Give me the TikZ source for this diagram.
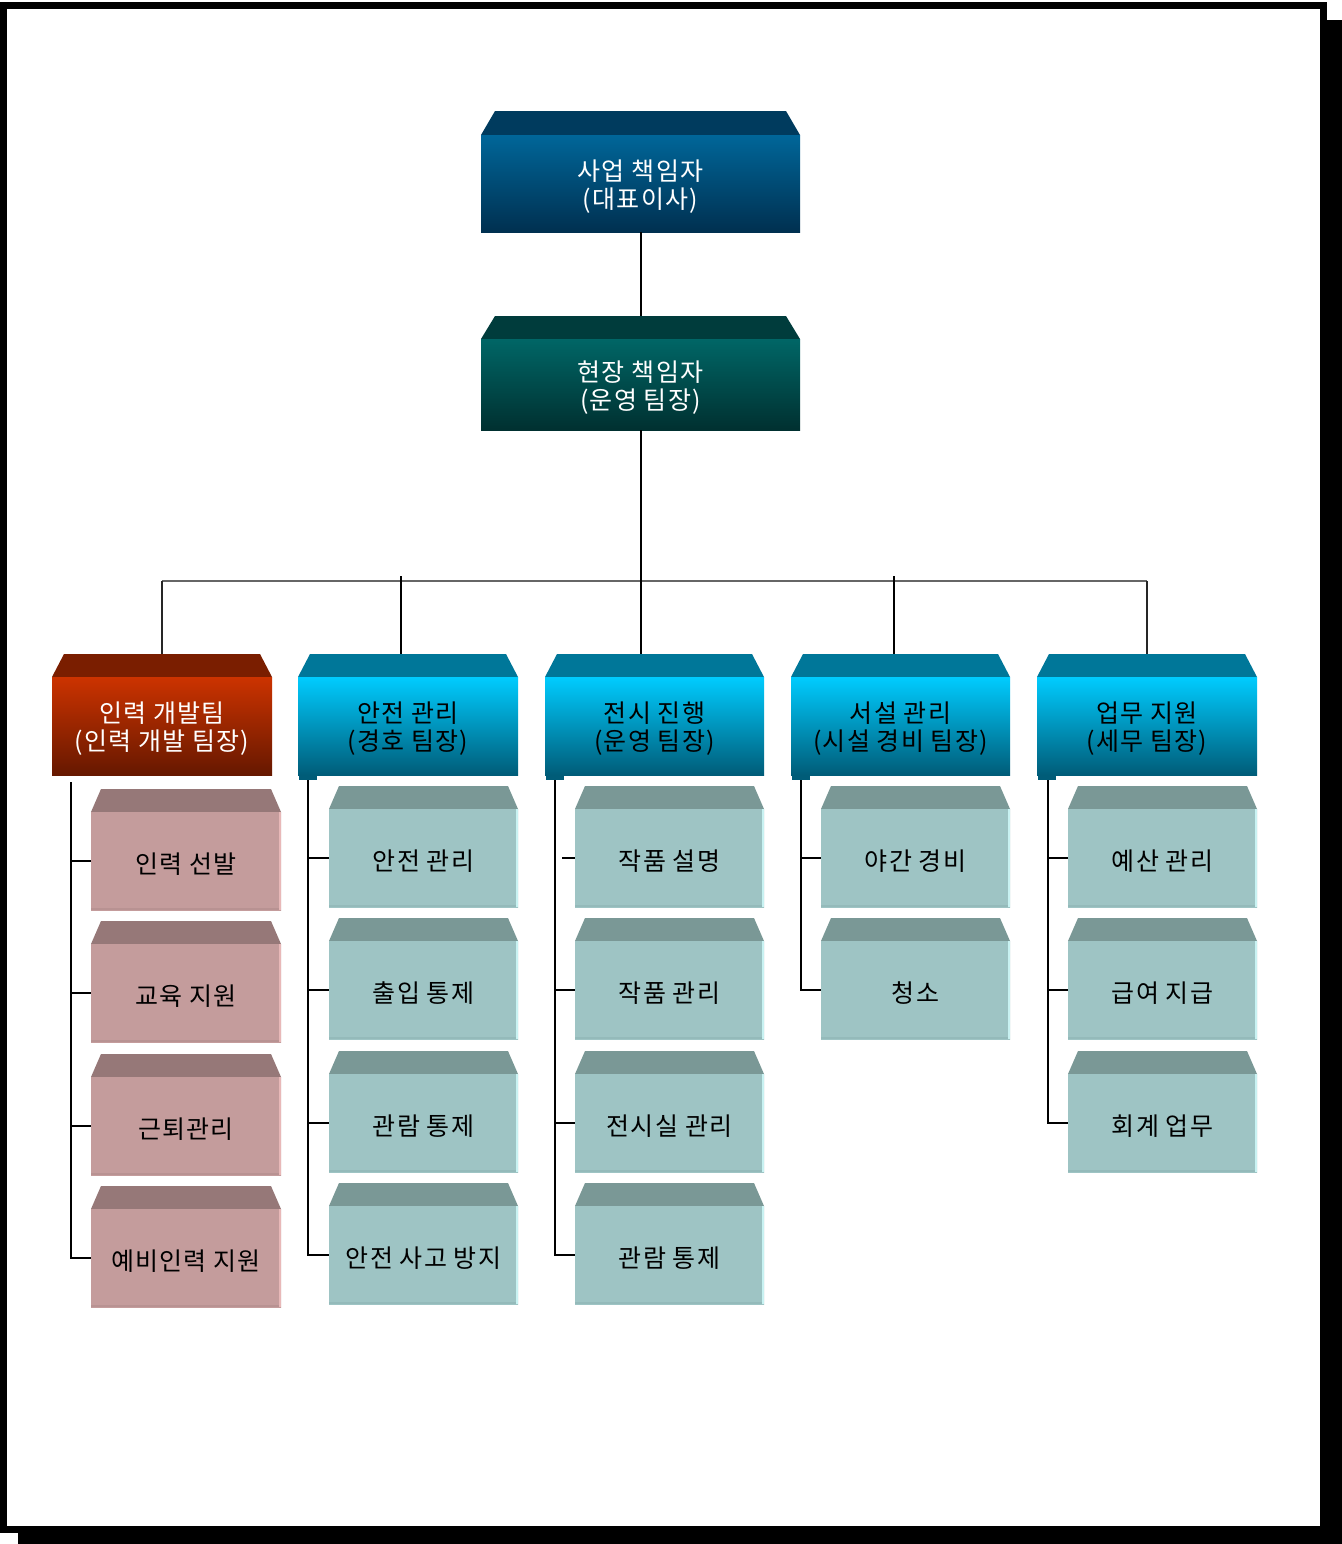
\documentclass[tikz,border=0pt]{standalone}
\usepackage{fontspec}
\newfontfamily\kr[LetterSpace=5]{Noto Sans CJK KR}
\usetikzlibrary{calc}

% palette
\definecolor{ceoLid}{HTML}{003B5E}
\definecolor{ceoTop}{HTML}{006699}
\definecolor{ceoBot}{HTML}{003050}
\definecolor{siteLid}{HTML}{003C3C}
\definecolor{siteTop}{HTML}{006666}
\definecolor{siteBot}{HTML}{003030}
\definecolor{redLid}{HTML}{7A1E00}
\definecolor{redTop}{HTML}{CC3300}
\definecolor{redBot}{HTML}{661800}
\definecolor{cyanLid}{HTML}{007799}
\definecolor{cyanTop}{HTML}{00CCFF}
\definecolor{cyanBot}{HTML}{005C78}
\definecolor{pinkLid}{HTML}{967878}
\definecolor{pinkFace}{HTML}{C49C9C}
\definecolor{pinkEdge}{HTML}{E8B8B8}
\definecolor{pinkBase}{HTML}{B89292}
\definecolor{tealLid}{HTML}{7A9896}
\definecolor{tealFace}{HTML}{9EC4C4}
\definecolor{tealEdge}{HTML}{C8F2F2}
\definecolor{tealBase}{HTML}{94BABA}

\tikzset{
  x=0.5pt, y=-0.5pt,
  label text/.style={inner sep=0pt, align=center, font=\kr\fontsize{12.5}{14}\selectfont},
  ceo lid/.style={fill=ceoLid},
  ceo face/.style={top color=ceoTop, bottom color=ceoBot},
  ceo text/.style={label text, text=white},
  site lid/.style={fill=siteLid},
  site face/.style={top color=siteTop, bottom color=siteBot},
  site text/.style={label text, text=white},
  red lid/.style={fill=redLid},
  red face/.style={top color=redTop, bottom color=redBot},
  red text/.style={label text, text=white},
  cyan lid/.style={fill=cyanLid},
  cyan face/.style={top color=cyanTop, bottom color=cyanBot},
  cyan text/.style={label text, text=black},
  pink lid/.style={fill=pinkLid},
  pink face/.style={top color=pinkFace, bottom color=pinkFace},
  pink text/.style={label text, text=black},
  pink edge/.style={fill=pinkEdge},
  pink base/.style={fill=pinkBase},
  teal lid/.style={fill=tealLid},
  teal face/.style={top color=tealFace, bottom color=tealFace},
  teal text/.style={label text, text=black},
  teal edge/.style={fill=tealEdge},
  teal base/.style={fill=tealBase},
  tab/.style={fill=cyanBot},
  trunk/.style={draw=black, line width=1pt},
  bar/.style={draw=black!60, line width=1pt},
  drop/.style={draw=black!85, line width=0.7pt},
  branch/.style={draw=black, line width=0.6pt},
}

% box with a slanted lid: name, left, right, lid top, face top, bottom, kind, lid inset, text
\newcommand{\slab}[9]{%
  \fill[#7 lid] ({#2+#8},#4) -- ({#3-#8},#4) -- (#3,#5) -- (#2,#5) -- cycle;
  \shade[#7 face] (#2,#5) rectangle (#3,#6);
  \node[#7 text, minimum width={(#3-#2)*0.5pt}, minimum height={(#6-#5)*0.5pt}]
    (#1) at ({(#2+#3)/2},{(#5+#6)/2}) {};
  \node[#7 text, yshift=-1.5pt] at (#1.center) {#9};
  \coordinate (#1-lid) at ({(#2+#3)/2},#4);
}
% small duty box: name, left, right, lid top, kind, text
\newcommand{\tile}[6]{%
  \slab{#1}{#2}{#3}{#4}{#4+23}{#4+121}{#5}{10}{#6}%
  \fill[#5 edge] ({#3-2},{#4+23}) rectangle (#3,{#4+121});
  \fill[#5 base] (#2,{#4+119}) rectangle ({#3-2},{#4+121});
}

\begin{document}
\begin{tikzpicture}
\useasboundingbox (0,0) rectangle (1342,1544);

% page frame with drop shadow
\fill[black] (18,20) rectangle (1342,1544);
\draw[fill=white, line width=3.5pt] (3.5,5) rectangle (1323.5,1529.5);

% management
\slab{ceo}{481}{800}{111}{135}{232}{ceo}{14}{사업 책임자\\(대표이사)}
\slab{site}{481}{800}{316}{339}{430}{site}{14}{현장 책임자\\(운영 팀장)}

% teams
\slab{hr}{52}{272}{654}{677}{775}{red}{12}{인력 개발팀\\(인력 개발 팀장)}
\slab{safe}{298}{518}{654}{677}{775}{cyan}{12}{안전 관리\\(경호 팀장)}
\slab{exh}{545}{764}{654}{677}{775}{cyan}{12}{전시 진행\\(운영 팀장)}
\slab{fac}{791}{1010}{654}{677}{775}{cyan}{12}{서설 관리\\(시설 경비 팀장)}
\slab{biz}{1037}{1257}{654}{677}{775}{cyan}{12}{업무 지원\\(세무 팀장)}
\foreach \t in {safe,exh,fac,biz}
  \fill[tab] ($(\t.south west)+(1,0)$) rectangle ++(18,5);

% duties
\tile{hr1}{91}{281}{789}{pink}{인력 선발}
\tile{hr2}{91}{281}{921}{pink}{교육 지원}
\tile{hr3}{91}{281}{1054}{pink}{근퇴관리}
\tile{hr4}{91}{281}{1186}{pink}{예비인력 지원}

\tile{sf1}{329}{518}{786}{teal}{안전 관리}
\tile{sf2}{329}{518}{918}{teal}{출입 통제}
\tile{sf3}{329}{518}{1051}{teal}{관람 통제}
\tile{sf4}{329}{518}{1183}{teal}{안전 사고 방지}

\tile{ex1}{575}{764}{786}{teal}{작품 설명}
\tile{ex2}{575}{764}{918}{teal}{작품 관리}
\tile{ex3}{575}{764}{1051}{teal}{전시실 관리}
\tile{ex4}{575}{764}{1183}{teal}{관람 통제}

\tile{fc1}{821}{1010}{786}{teal}{야간 경비}
\tile{fc2}{821}{1010}{918}{teal}{청소}

\tile{bz1}{1068}{1257}{786}{teal}{예산 관리}
\tile{bz2}{1068}{1257}{918}{teal}{급여 지급}
\tile{bz3}{1068}{1257}{1051}{teal}{회계 업무}

% chain of command
\coordinate (bar) at (640,581);
\coordinate (dsafe) at (401,576);
\coordinate (dfac) at (894,576);
\draw[trunk] (ceo.south) -- (site-lid);
\draw[bar] (hr-lid |- bar) -- (biz-lid |- bar);
\draw[drop] (hr-lid |- bar) -- (hr-lid);
\draw[drop] (biz-lid |- bar) -- (biz-lid);
\draw[trunk] (site.south) -- (site.south |- exh-lid);
\draw[trunk] (dsafe) -- (dsafe |- safe-lid);
\draw[trunk] (dfac) -- (dfac |- fac-lid);

% duty spines
\coordinate (sp1) at (71,782);
\coordinate (sp2) at (308,780);
\coordinate (sp3) at (555,780);
\coordinate (sp4) at (801,780);
\coordinate (sp5) at (1048,780);
\draw[branch] (sp1) |- (hr4.west);
\foreach \b in {hr1,hr2,hr3} \draw[branch] (\b.west) -- (\b.west -| sp1);
\draw[branch] (sp2) |- (sf4.west);
\foreach \b in {sf1,sf2,sf3} \draw[branch] (\b.west) -- (\b.west -| sp2);
\draw[branch] (sp3) |- (ex4.west);
\foreach \b in {ex2,ex3} \draw[branch] (\b.west) -- (\b.west -| sp3);
\draw[branch] (ex1.west) -- ++(-13,0);
\draw[branch] (sp4) |- (fc2.west);
\draw[branch] (fc1.west) -- (fc1.west -| sp4);
\draw[branch] (sp5) |- (bz3.west);
\foreach \b in {bz1,bz2} \draw[branch] (\b.west) -- (\b.west -| sp5);
\end{tikzpicture}
\end{document}
